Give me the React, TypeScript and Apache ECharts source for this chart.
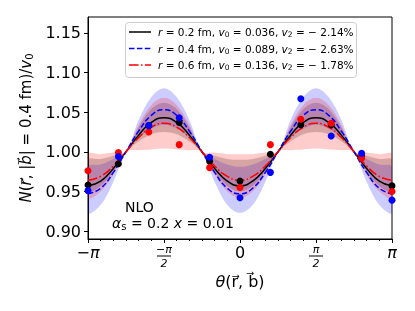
import React, { useEffect, useRef } from 'react';
import * as echarts from 'echarts';

const PI = Math.PI;
const FONT = 'DejaVu Sans';

// sampling grid of theta (in units of pi)
const gridOverPi = [-1, -0.9167, -0.8333, -0.75, -0.6667, -0.5833, -0.5, -0.4167, -0.3333, -0.25, -0.1667, -0.0833, 0,
  0.0833, 0.1667, 0.25, 0.3333, 0.4167, 0.5, 0.5833, 0.6667, 0.75, 0.8333, 0.9167, 1];

// fitted curves
const curveR02 = [0.957, 0.963, 0.979, 1.0, 1.021, 1.037, 1.043, 1.037, 1.021, 1.0, 0.979, 0.963, 0.957,
  0.963, 0.979, 1.0, 1.021, 1.037, 1.043, 1.037, 1.021, 1.0, 0.979, 0.963, 0.957];
const curveR04 = [0.947, 0.954, 0.974, 1.0, 1.026, 1.046, 1.053, 1.046, 1.026, 1.0, 0.974, 0.954, 0.947,
  0.954, 0.974, 1.0, 1.026, 1.046, 1.053, 1.046, 1.026, 1.0, 0.974, 0.954, 0.947];
const curveR06 = [0.964, 0.969, 0.982, 1.0, 1.018, 1.031, 1.036, 1.031, 1.018, 1.0, 0.982, 0.969, 0.964,
  0.969, 0.982, 1.0, 1.018, 1.031, 1.036, 1.031, 1.018, 1.0, 0.982, 0.969, 0.964];

// uncertainty bands
const bandR02Upper = [0.990, 0.991, 0.995, 1.0, 1.031, 1.054, 1.062, 1.054, 1.031, 1.0, 0.995, 0.991, 0.990,
  0.991, 0.995, 1.0, 1.031, 1.054, 1.062, 1.054, 1.031, 1.0, 0.995, 0.991, 0.990];
const bandR02Lower = [0.950, 0.957, 0.975, 1.0, 1.013, 1.022, 1.025, 1.022, 1.013, 1.0, 0.975, 0.957, 0.950,
  0.957, 0.975, 1.0, 1.013, 1.022, 1.025, 1.022, 1.013, 1.0, 0.975, 0.957, 0.950];
const bandR04Upper = [0.981, 0.984, 0.991, 1.0, 1.040, 1.069, 1.080, 1.069, 1.040, 1.0, 0.991, 0.984, 0.981,
  0.984, 0.991, 1.0, 1.040, 1.069, 1.080, 1.069, 1.040, 1.0, 0.991, 0.984, 0.981];
const bandR04Lower = [0.923, 0.933, 0.962, 1.0, 1.017, 1.029, 1.034, 1.029, 1.017, 1.0, 0.962, 0.933, 0.923,
  0.933, 0.962, 1.0, 1.017, 1.029, 1.034, 1.029, 1.017, 1.0, 0.962, 0.933, 0.923];
const bandR06Upper = [0.997, 0.997, 0.999, 1.0, 1.034, 1.059, 1.068, 1.059, 1.034, 1.0, 0.999, 0.997, 0.997,
  0.997, 0.999, 1.0, 1.034, 1.059, 1.068, 1.059, 1.034, 1.0, 0.999, 0.997, 0.997];
const bandR06Lower = [0.942, 0.950, 0.971, 1.0, 1.002, 1.003, 1.004, 1.003, 1.002, 1.0, 0.971, 0.950, 0.942,
  0.950, 0.971, 1.0, 1.002, 1.003, 1.004, 1.003, 1.002, 1.0, 0.971, 0.950, 0.942];

// data points
const pointsOverPi = [-1, -0.8, -0.6, -0.4, -0.2, 0, 0.2, 0.4, 0.6, 0.8, 1];
const pointsR02 = [0.958, 0.985, 1.033, 1.037, 0.988, 0.963, 0.997, 1.034, 1.034, 0.994, 0.957];
const pointsR04 = [0.951, 0.994, 1.033, 1.043, 0.993, 0.942, 0.974, 1.067, 1.020, 0.998, 0.939];
const pointsR06 = [0.976, 0.999, 1.025, 1.009, 0.980, 0.955, 1.009, 1.041, 1.036, 0.992, 0.950];

const yTicks = [0.9, 0.95, 1.0, 1.05, 1.1, 1.15];
const legendTexts = [
  '{i|r} = 0.2 fm, {i|v}{s|0} = 0.036, {i|v}{s|2} = − 2.14%',
  '{i|r} = 0.4 fm, {i|v}{s|0} = 0.089, {i|v}{s|2} = − 2.63%',
  '{i|r} = 0.6 fm, {i|v}{s|0} = 0.136, {i|v}{s|2} = − 1.78%',
];
const legendColors = ['#000000', '#0000ff', '#ff0000'];
const legendDashes: any[] = [null, [5.5, 2.4], [9.6, 2.4, 1.5, 2.4]];

export default function App() {
  const ref = useRef<HTMLDivElement>(null);
  useEffect(() => {
    const chart = echarts.init(ref.current!, null, { renderer: 'svg' });
    const xs = gridOverPi.map((v) => v * PI);
    const px = pointsOverPi.map((v) => v * PI);

    const band = (lo: number[], up: number[], color: string) => ({
      type: 'custom', clip: true, silent: true, z: 1,
      data: [0],
      renderItem: (_p: any, api: any) => {
        const upPts = xs.map((x, i) => api.coord([x, up[i]]));
        const loPts = xs.map((x, i) => api.coord([x, lo[i]])).reverse();
        return {
          type: 'polygon',
          shape: { points: [...upPts, ...loPts], smooth: 0.35 },
          style: { fill: color, stroke: 'none' },
        };
      },
    });
    const curve = (ys: number[], color: string, type: any) => ({
      type: 'line', smooth: true, symbol: 'none', z: 3,
      lineStyle: { color, width: 1.5, type },
      data: xs.map((x, i) => [x, ys[i]]),
    });
    const pts = (ys: number[], color: string) => ({
      type: 'scatter', symbolSize: 7, clip: false, z: 4,
      itemStyle: { color, opacity: 1 },
      data: px.map((x, i) => [x, ys[i]]),
    });

    const xLabel = (v: number) => {
      const k = Math.round(v / (PI / 2));
      const map: Record<string, string> = {
        '-2': '{m|−}{mi|π}',
        '-1': '{f|−π}\n{bar|}\n{f|2}',
        '0': '{m|0}',
        '1': '{f|π}\n{bar|}\n{f|2}',
        '2': '{mi|π}',
      };
      return map[String(k)] ?? '';
    };

    const legendRich = {
      i: { fontSize: 10.5, fontFamily: FONT, fontStyle: 'italic', fill: '#000' },
      n: { fontSize: 10.5, fontFamily: FONT, fill: '#000' },
      s: { fontSize: 7.5, fontFamily: FONT, fill: '#000', padding: [5, 0, 0, 0] },
    };
    const rowY = [32, 48.5, 65];
    const legendGraphic: any[] = [
      {
        type: 'rect', shape: { x: 125.5, y: 22.5, width: 231, height: 55, r: 3 },
        style: { fill: 'rgba(255,255,255,0.85)', stroke: '#cccccc', lineWidth: 1 }, z: 100,
      },
    ];
    rowY.forEach((y, i) => {
      legendGraphic.push({
        type: 'line', shape: { x1: 129, y1: y, x2: 151, y2: y }, z: 101,
        style: { stroke: legendColors[i], lineWidth: 1.5, lineDash: legendDashes[i] },
      });
      legendGraphic.push({
        type: 'text', x: 158, y, z: 101,
        style: {
          text: legendTexts[i].replace(/(^|\})([^{}]+)(?=\{|$)/g, '$1{n|$2}'),
          fontSize: 10.5, fontFamily: FONT, fill: '#000', verticalAlign: 'middle', rich: legendRich,
        },
      });
    });

    const option: any = {
      animation: false,
      textStyle: { fontFamily: FONT },
      grid: { left: 88, right: 23, top: 17, bottom: 72, show: true, borderColor: '#000', borderWidth: 1 },
      xAxis: {
        type: 'value', min: -PI, max: PI, interval: PI / 2,
        axisLine: { onZero: false, lineStyle: { color: '#000', width: 1 } },
        axisTick: { length: 4, lineStyle: { color: '#000' } },
        minorTick: { show: true, splitNumber: 6, length: 2, lineStyle: { color: '#000' } },
        splitLine: { show: false },
        axisLabel: {
          margin: 5, color: '#000', formatter: xLabel,
          rich: {
            m: { fontSize: 16, fontFamily: FONT, color: '#000' },
            mi: { fontSize: 16, fontFamily: FONT, fontStyle: 'italic', color: '#000' },
            f: { fontSize: 11, fontFamily: FONT, fontStyle: 'italic', color: '#000', lineHeight: 10, align: 'center' },
            bar: { width: 14, height: 1, backgroundColor: '#000', lineHeight: 4, align: 'center' },
          },
        },
        name: '{i|θ}(r\u20D7, b\u20D7)',
        nameLocation: 'middle', nameGap: 34,
        nameTextStyle: {
          fontSize: 16, fontFamily: FONT, color: '#000',
          rich: { i: { fontSize: 16, fontFamily: FONT, fontStyle: 'italic', color: '#000' } },
        },
      },
      yAxis: {
        type: 'value', min: 0.89, max: 1.17,
        axisLine: { show: true, onZero: false, lineStyle: { color: '#000', width: 1 } },
        axisTick: { show: true, length: 4, customValues: yTicks, lineStyle: { color: '#000' } },
        splitLine: { show: false },
        axisLabel: {
          customValues: yTicks, margin: 7, color: '#000', fontSize: 16, fontFamily: FONT,
          formatter: (v: number) => v.toFixed(2),
        },
        name: '{i|N}({i|r\u20D7}, |{i|b\u20D7}| = 0.4 fm)/{i|v}{s|0}',
        nameLocation: 'middle', nameRotate: 90, nameGap: 48,
        nameTextStyle: {
          fontSize: 15, fontFamily: FONT, color: '#000',
          rich: {
            i: { fontSize: 15, fontFamily: FONT, fontStyle: 'italic', color: '#000' },
            s: { fontSize: 10, fontFamily: FONT, color: '#000', padding: [7, 0, 0, 0] },
          },
        },
      },
      graphic: [
        ...legendGraphic,
        { type: 'text', left: 125, top: 200, style: { text: 'NLO', font: '14px "DejaVu Sans"', fill: '#000' } },
        {
          type: 'text', left: 112, top: 216,
          style: {
            text: '{i|α}{s|s} = 0.2 {i|x} = 0.01', font: '14px "DejaVu Sans"', fill: '#000',
            rich: {
              i: { fontSize: 14, fontFamily: FONT, fontStyle: 'italic', fill: '#000' },
              s: { fontSize: 10, fontFamily: FONT, fill: '#000', padding: [6, 0, 0, 0] },
            },
          },
        },
      ],
      series: [
        band(bandR02Lower, bandR02Upper, 'rgba(0,0,0,0.2)'),
        band(bandR04Lower, bandR04Upper, 'rgba(0,0,255,0.2)'),
        band(bandR06Lower, bandR06Upper, 'rgba(255,0,0,0.2)'),
        curve(curveR02, '#000000', 'solid'),
        curve(curveR04, '#0000ff', [5.5, 2.4]),
        curve(curveR06, '#ff0000', [9.6, 2.4, 1.5, 2.4]),
        pts(pointsR02, '#000000'),
        pts(pointsR06, '#ff0000'),
        pts(pointsR04, '#0000ff'),
      ],
    };
    chart.setOption(option);
    return () => chart.dispose();
  }, []);
  return <div ref={ref} style={{ position: 'fixed', left: 0, top: 0, width: 415, height: 311 }} />;
}
